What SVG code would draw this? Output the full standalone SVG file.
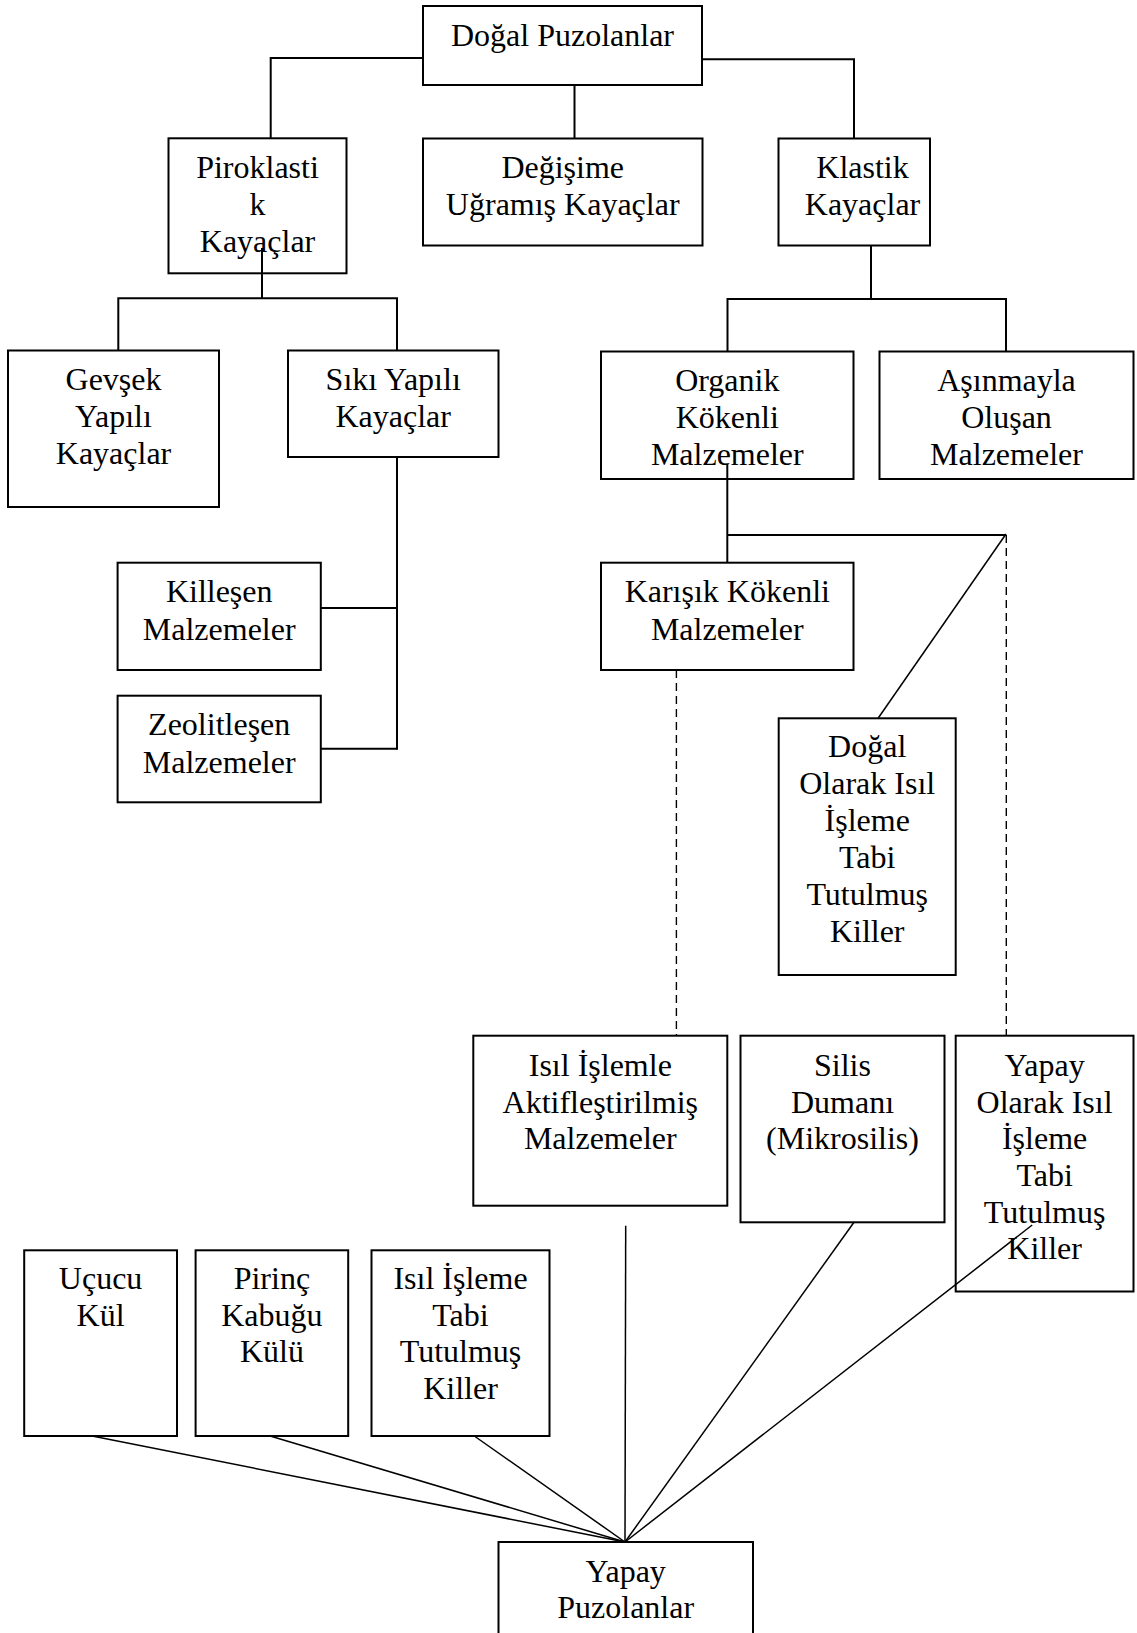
<svg xmlns="http://www.w3.org/2000/svg" width="1137" height="1633" viewBox="0 0 1137 1633">
<style>
.box{fill:#fff;stroke:#000;stroke-width:2}
.t{font-family:"Liberation Serif","Times New Roman",serif;font-size:32px;fill:#000;text-anchor:middle}
.c{fill:none;stroke:#000;stroke-width:2}
.d{fill:none;stroke:#000;stroke-width:1.4;stroke-dasharray:8 5}
.g{fill:none;stroke:#000;stroke-width:1.5}
</style>
<rect width="1137" height="1633" fill="#fff"/>
<g id="nodes">
<g id="n-dogal"><rect class="box" x="423" y="6" width="279" height="79"/><text class="t" x="562.5" y="46">Doğal Puzolanlar</text></g>
<g id="n-pirok"><rect class="box" x="168.5" y="138.3" width="178" height="135"/><text class="t"><tspan x="257.5" y="177.5">Piroklasti</tspan><tspan x="257.5" y="214.5">k</tspan><tspan x="257.5" y="251.5">Kayaçlar</tspan></text></g>
<g id="n-degisime"><rect class="box" x="423" y="138.5" width="279.5" height="107"/><text class="t"><tspan x="562.7" y="177.5">Değişime</tspan><tspan x="562.7" y="214.5">Uğramış Kayaçlar</tspan></text></g>
<g id="n-klastik"><rect class="box" x="778.5" y="138.5" width="151.5" height="107"/><text class="t"><tspan x="862.5" y="177.5">Klastik</tspan><tspan x="862.5" y="214.5">Kayaçlar</tspan></text></g>
<g id="n-gevsek"><rect class="box" x="8" y="350.5" width="211" height="156.5"/><text class="t"><tspan x="113.5" y="390">Gevşek</tspan><tspan x="113.5" y="427">Yapılı</tspan><tspan x="113.5" y="464">Kayaçlar</tspan></text></g>
<g id="n-siki"><rect class="box" x="288" y="350.5" width="210.5" height="106.5"/><text class="t"><tspan x="393.2" y="390">Sıkı Yapılı</tspan><tspan x="393.2" y="427">Kayaçlar</tspan></text></g>
<g id="n-organik"><rect class="box" x="601" y="351.5" width="252.5" height="127.5"/><text class="t"><tspan x="727.3" y="391">Organik</tspan><tspan x="727.3" y="428">Kökenli</tspan><tspan x="727.3" y="465">Malzemeler</tspan></text></g>
<g id="n-asinma"><rect class="box" x="879.5" y="351.5" width="254" height="127.5"/><text class="t"><tspan x="1006.5" y="391">Aşınmayla</tspan><tspan x="1006.5" y="428">Oluşan</tspan><tspan x="1006.5" y="465">Malzemeler</tspan></text></g>
<g id="n-killesen"><rect class="box" x="117.6" y="562.7" width="203.2" height="107.3"/><text class="t"><tspan x="219.2" y="602">Killeşen</tspan><tspan x="219.2" y="639.5">Malzemeler</tspan></text></g>
<g id="n-zeolit"><rect class="box" x="117.6" y="695.7" width="203.2" height="106.6"/><text class="t"><tspan x="219.2" y="735">Zeolitleşen</tspan><tspan x="219.2" y="772.5">Malzemeler</tspan></text></g>
<g id="n-karisik"><rect class="box" x="601" y="562.7" width="252.5" height="107.3"/><text class="t"><tspan x="727.3" y="602">Karışık Kökenli</tspan><tspan x="727.3" y="639.5">Malzemeler</tspan></text></g>
<g id="n-dogalolarak"><rect class="box" x="778.7" y="718.3" width="177" height="256.7"/><text class="t"><tspan x="867.2" y="757">Doğal</tspan><tspan x="867.2" y="794">Olarak Isıl</tspan><tspan x="867.2" y="831">İşleme</tspan><tspan x="867.2" y="868">Tabi</tspan><tspan x="867.2" y="905">Tutulmuş</tspan><tspan x="867.2" y="942">Killer</tspan></text></g>
<g id="n-isilislemle"><rect class="box" x="473.3" y="1035.7" width="254" height="170"/><text class="t"><tspan x="600.3" y="1076">Isıl İşlemle</tspan><tspan x="600.3" y="1112.5">Aktifleştirilmiş</tspan><tspan x="600.3" y="1149">Malzemeler</tspan></text></g>
<g id="n-silis"><rect class="box" x="740.5" y="1035.7" width="204" height="186.6"/><text class="t"><tspan x="842.5" y="1076">Silis</tspan><tspan x="842.5" y="1112.5">Dumanı</tspan><tspan x="842.5" y="1149">(Mikrosilis)</tspan></text></g>
<g id="n-yapayolarak"><rect class="box" x="955.7" y="1035.7" width="177.8" height="255.8"/><text class="t"><tspan x="1044.6" y="1076">Yapay</tspan><tspan x="1044.6" y="1112.5">Olarak Isıl</tspan><tspan x="1044.6" y="1149">İşleme</tspan><tspan x="1044.6" y="1186">Tabi</tspan><tspan x="1044.6" y="1222.5">Tutulmuş</tspan><tspan x="1044.6" y="1259">Killer</tspan></text></g>
<g id="n-ucucu"><rect class="box" x="24.2" y="1250.3" width="152.8" height="185.7"/><text class="t"><tspan x="100.6" y="1289">Uçucu</tspan><tspan x="100.6" y="1325.5">Kül</tspan></text></g>
<g id="n-pirinc"><rect class="box" x="195.6" y="1250.3" width="152.6" height="185.7"/><text class="t"><tspan x="271.9" y="1289">Pirinç</tspan><tspan x="271.9" y="1325.5">Kabuğu</tspan><tspan x="271.9" y="1362">Külü</tspan></text></g>
<g id="n-isilisleme"><rect class="box" x="371.5" y="1250.3" width="178" height="185.7"/><text class="t"><tspan x="460.5" y="1289">Isıl İşleme</tspan><tspan x="460.5" y="1325.5">Tabi</tspan><tspan x="460.5" y="1362">Tutulmuş</tspan><tspan x="460.5" y="1399">Killer</tspan></text></g>
<g id="n-yapaypuz"><rect class="box" x="498.5" y="1542" width="254.5" height="110"/><text class="t"><tspan x="625.7" y="1581.5">Yapay</tspan><tspan x="625.7" y="1618">Puzolanlar</tspan></text></g>
</g>
<g id="connectors">
<polyline class="c" points="423,58 270.7,58 270.7,138.3"/>
<line class="c" x1="574.5" y1="85" x2="574.5" y2="138.5"/>
<polyline class="c" points="702,59.3 854,59.3 854,138.5"/>
<line class="c" x1="262" y1="248" x2="262" y2="298.3"/>
<polyline class="c" points="118.3,350.5 118.3,298.3 397,298.3 397,350.5"/>
<line class="c" x1="871" y1="245.5" x2="871" y2="299"/>
<polyline class="c" points="727.5,351.5 727.5,299 1006,299 1006,351.5"/>
<line class="c" x1="397" y1="457" x2="397" y2="749.7"/>
<line class="c" x1="320.8" y1="608" x2="397" y2="608"/>
<line class="c" x1="320.8" y1="748.7" x2="397" y2="748.7"/>
<line class="c" x1="727.3" y1="464" x2="727.3" y2="562.7"/>
<line class="c" x1="727.3" y1="535" x2="1006" y2="535"/>
<line class="g" x1="1006" y1="534" x2="878.1" y2="718.3"/>
<line class="d" x1="1006.3" y1="535" x2="1006.3" y2="1035.7"/>
<line class="d" x1="676.4" y1="670" x2="676.4" y2="1035.7"/>
<line class="g" x1="92.1" y1="1436" x2="625" y2="1542"/>
<line class="g" x1="270.1" y1="1436" x2="625" y2="1542"/>
<line class="g" x1="474.3" y1="1436" x2="625" y2="1542"/>
<line class="g" x1="625.7" y1="1225.7" x2="625" y2="1542"/>
<line class="g" x1="854" y1="1222.3" x2="625" y2="1542"/>
<line class="g" x1="1032.2" y1="1225" x2="625" y2="1542"/>
</g>
</svg>
